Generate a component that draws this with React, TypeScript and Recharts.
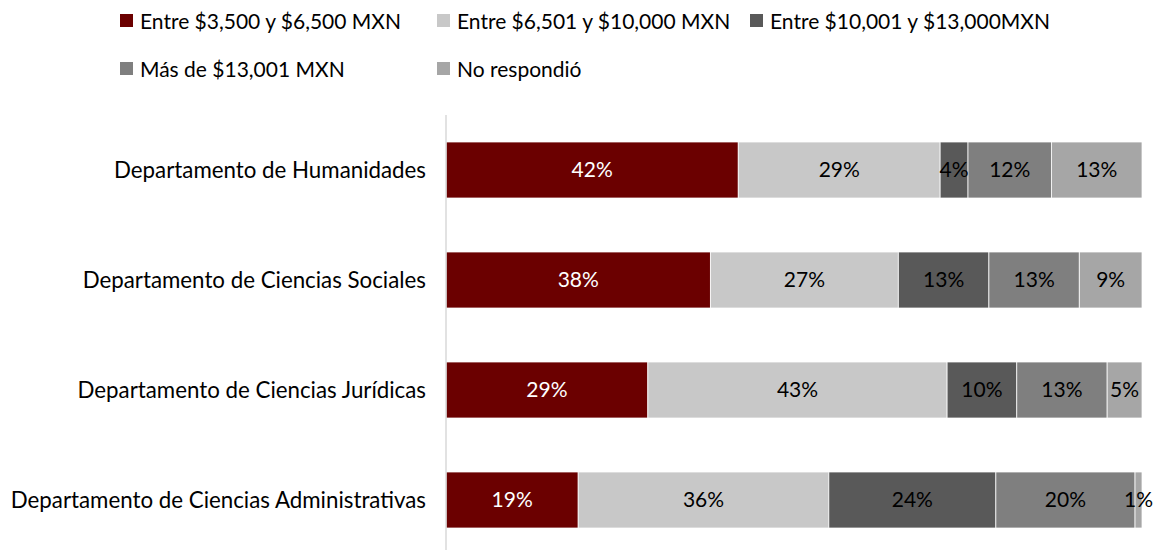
import { BarChart, Bar, XAxis, YAxis, LabelList } from 'recharts'

const departamentos = [
  'Departamento de Humanidades',
  'Departamento de Ciencias Sociales',
  'Departamento de Ciencias Jurídicas',
  'Departamento de Ciencias Administrativas',
]

const rango1 = [42, 38, 29, 19]
const rango2 = [29, 27, 43, 36]
const rango3 = [4, 13, 10, 24]
const rango4 = [12, 13, 13, 20]
const noResp = [13, 9, 5, 1]

const series = [
  { key: 'r1', name: 'Entre $3,500 y $6,500 MXN', values: rango1, color: '#6B0000', text: '#ffffff' },
  { key: 'r2', name: 'Entre $6,501 y $10,000 MXN', values: rango2, color: '#C8C8C8', text: '#000000' },
  { key: 'r3', name: 'Entre $10,001 y $13,000MXN', values: rango3, color: '#595959', text: '#000000' },
  { key: 'r4', name: 'Más de $13,001 MXN', values: rango4, color: '#7F7F7F', text: '#000000' },
  { key: 'nr', name: 'No respondió', values: noResp, color: '#A6A6A6', text: '#000000' },
]

const data = departamentos.map((d, i) => {
  const row: any = { dep: d }
  series.forEach((s) => { row[s.key] = s.values[i] })
  return row
})

const font = 'Lato, "Open Sans", sans-serif'
const fs = 21

// legend positions copied from the reference layout
const legendSlots = [
  { left: 120, top: 8 },
  { left: 437, top: 8 },
  { left: 750, top: 8 },
  { left: 120, top: 56 },
  { left: 437, top: 56 },
]

export default function App() {
  return (
    <div style={{ position: 'absolute', left: 0, top: 0, width: 1154, height: 550, overflow: 'hidden', background: '#fff' }}>
      {series.map((s, i) => (
        <div key={s.key} style={{
          position: 'absolute', left: legendSlots[i].left, top: legendSlots[i].top,
          display: 'flex', alignItems: 'center', fontFamily: font, fontSize: fs, color: '#000', whiteSpace: 'nowrap',
        }}>
          <span style={{ width: 13, height: 13, background: s.color, display: 'inline-block', marginRight: 7 }} />
          {s.name}
        </div>
      ))}
      <BarChart
        width={1154} height={560} data={data} layout="vertical"
        margin={{ top: 115, right: 12, bottom: 5, left: 0 }}
        barSize={56}
      >
        <XAxis type="number" domain={[0, 100]} hide />
        <YAxis
          type="category" dataKey="dep" width={446}
          axisLine={{ stroke: '#D9D9D9', strokeWidth: 1.5 }} tickLine={false}
          tick={{ fill: '#000', fontSize: 22.3, fontFamily: font }} tickMargin={14}
        />
        {series.map((s) => (
          <Bar key={s.key} dataKey={s.key} name={s.name} stackId="a" fill={s.color}
            stroke="#ffffff" strokeWidth={0.75} isAnimationActive={false}>
            <LabelList dataKey={s.key} position="center" formatter={(v: any) => `${v}%`}
              style={{ fill: s.text, fontSize: fs, fontFamily: font }} />
          </Bar>
        ))}
      </BarChart>
    </div>
  )
}
